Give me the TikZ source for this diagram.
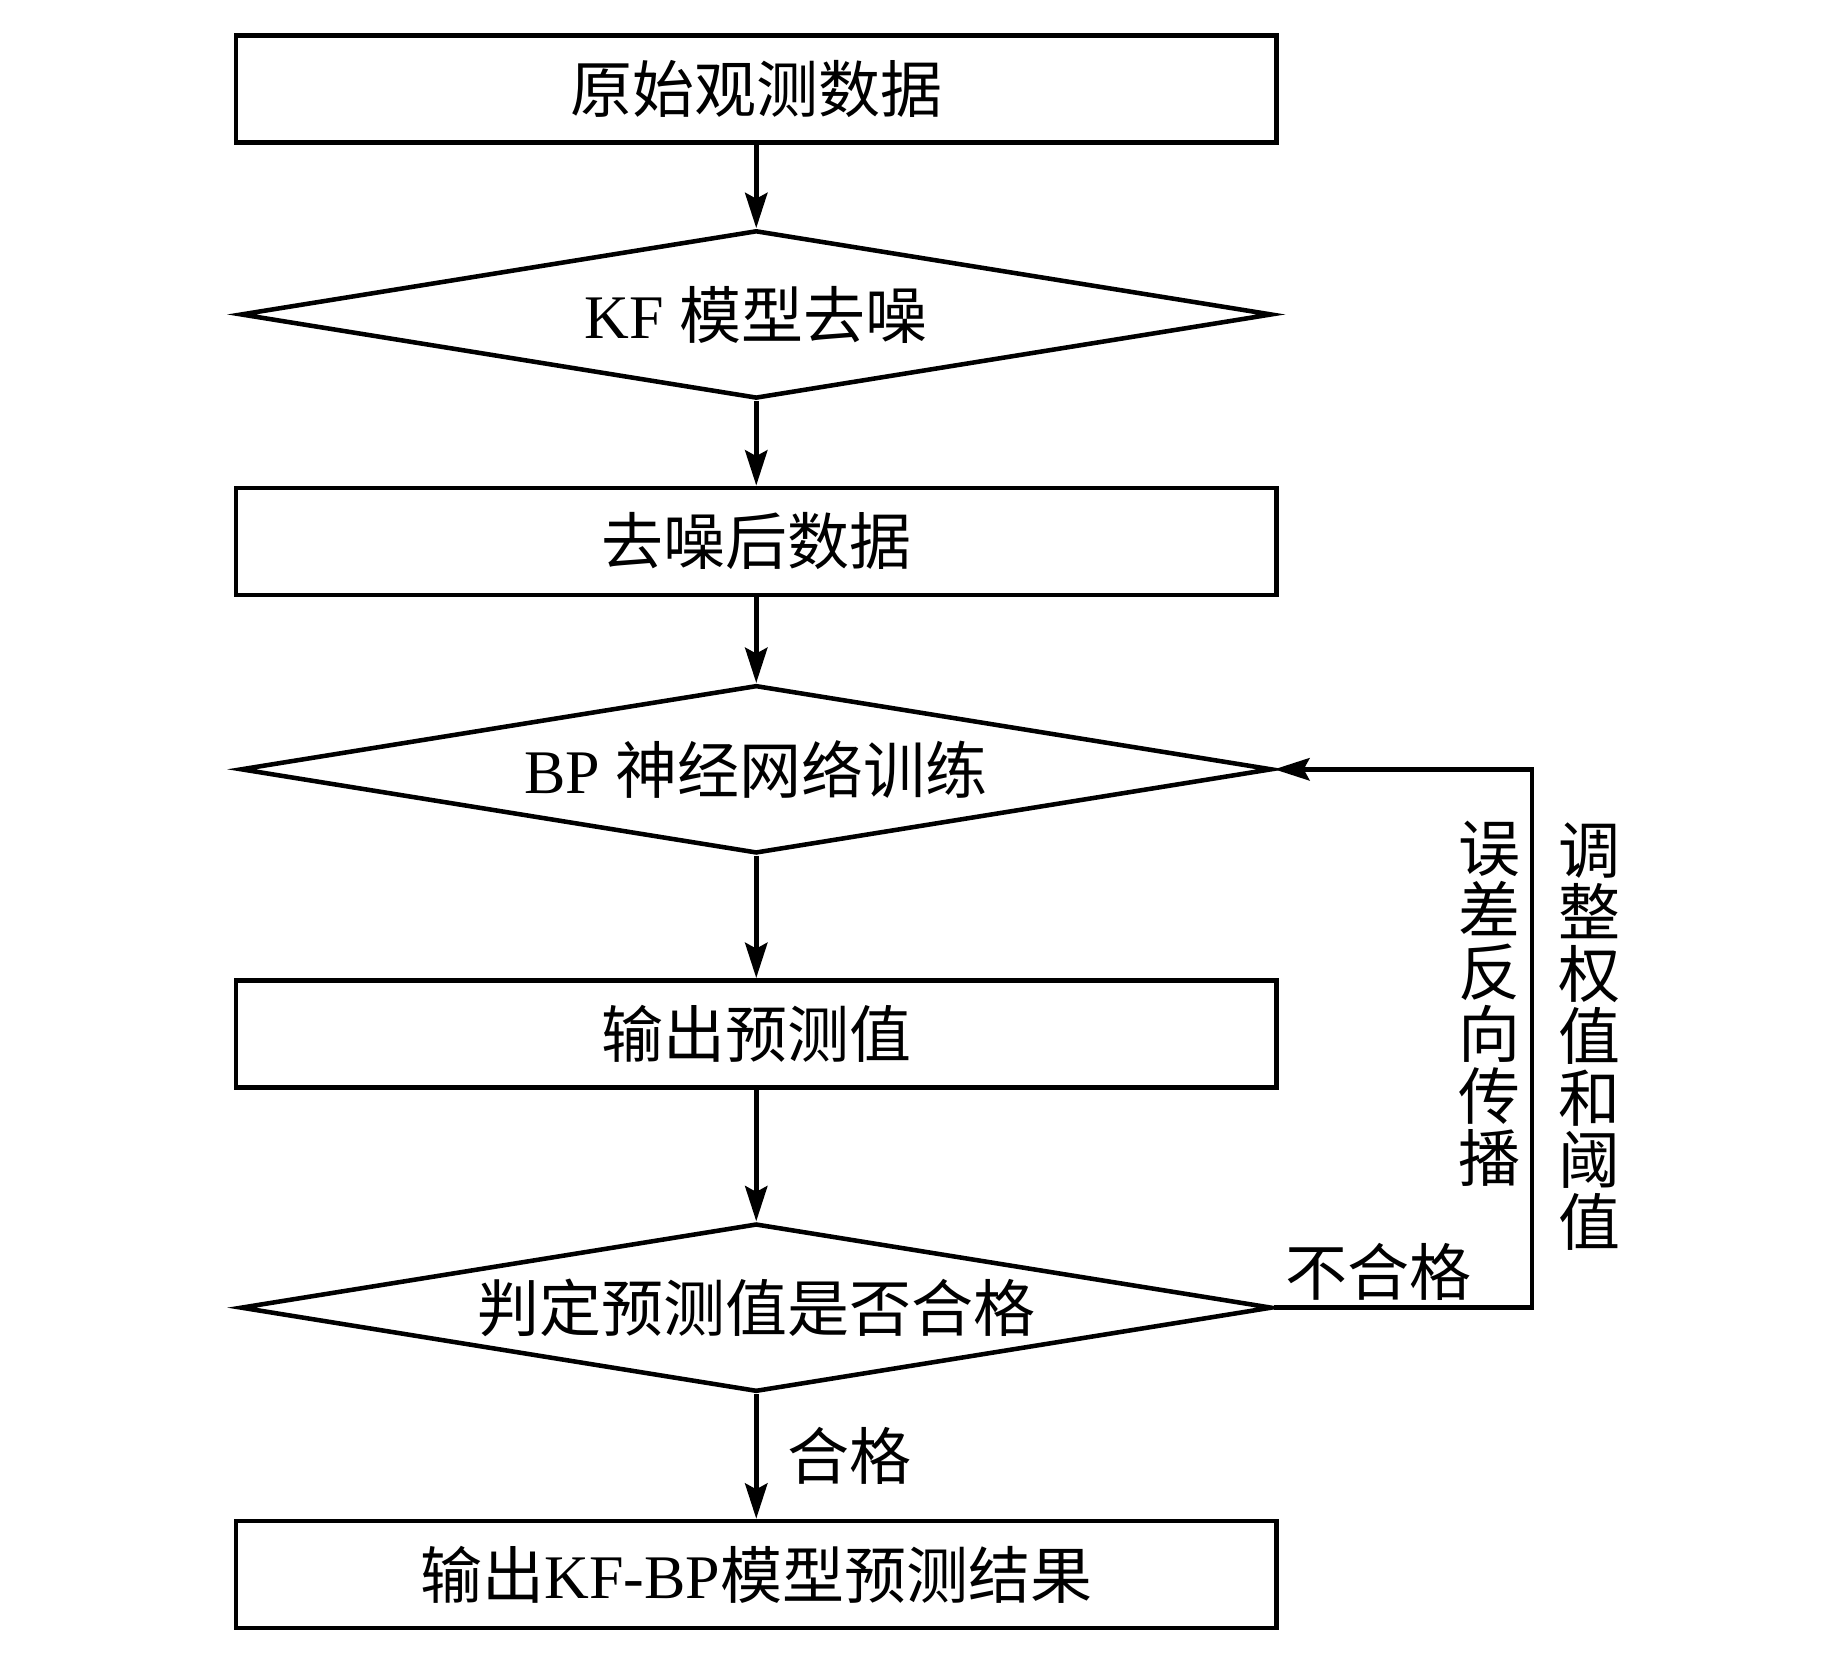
\documentclass[tikz,border=0pt]{standalone}
\usepackage{fontspec}
\setmainfont{Liberation Serif}
\newfontfamily\cjk{Noto Sans CJK SC}
\usepackage{tikz}
\usetikzlibrary{shapes.geometric, arrows.meta, positioning, calc}
\tikzset{
  procbox/.style={rectangle, draw=black, line width=1.1pt, minimum width=8.85cm, minimum height=0.91cm, inner sep=0pt, font=\fontsize{15}{15}\selectfont, align=center},
  decbox/.style={diamond, draw=black, line width=1.1pt, aspect=6.1, minimum width=8.77cm, minimum height=1.43cm, inner sep=0pt, font=\fontsize{15}{15}\selectfont, align=center},
  flowarrow/.style={-{Stealth[length=3mm, width=1.9mm, inset=0.5mm]}, line width=1.1pt, black},
  sidelabel/.style={font=\cjk\fontsize{15}{15}\selectfont, inner sep=0pt, align=center}
}
\begin{document}
\begin{tikzpicture}
  \useasboundingbox (0,0) rectangle (15.67,-14.06);

  \node[procbox] (raw) at (6.43,-0.755) {\cjk 原始观测数据};
  \node[decbox, below=0.71cm of raw] (kf) {KF {\cjk 模型去噪}};
  \node[procbox, below=0.72cm of kf] (clean) {\cjk 去噪后数据};
  \node[decbox, below=0.73cm of clean] (bp) {BP {\cjk 神经网络训练}};
  \node[procbox, below=1.04cm of bp] (pred) {\cjk 输出预测值};
  \node[decbox, below=1.12cm of pred] (judge) {\cjk 判定预测值是否合格};
  \node[procbox, below=1.06cm of judge] (result) {{\cjk 输出}KF-BP{\cjk 模型预测结果}};

  \draw[flowarrow] (raw) -- (kf);
  \draw[flowarrow] (kf) -- (clean);
  \draw[flowarrow] (clean) -- (bp);
  \draw[flowarrow] (bp) -- (pred);
  \draw[flowarrow] (pred) -- (judge);
  \draw[flowarrow] (judge) -- node[sidelabel, right, xshift=0.25cm] {合格} (result);

  % feedback loop
  \coordinate (fb) at ($(bp.east)+(2.19,0)$);
  \draw[flowarrow] (judge.east) -- node[sidelabel, above, xshift=-0.21cm, yshift=0.04cm] {不合格} (judge.east -| fb) -- (fb) -- (bp.east);
  \node[sidelabel, anchor=north] (errlab) at ($(fb)+(-0.36,-0.43)$) {误\\差\\反\\向\\传\\播};
  \node[sidelabel, anchor=north] (adjlab) at ($(fb)+(0.49,-0.45)$) {调\\整\\权\\值\\和\\阈\\值};
\end{tikzpicture}
\end{document}
